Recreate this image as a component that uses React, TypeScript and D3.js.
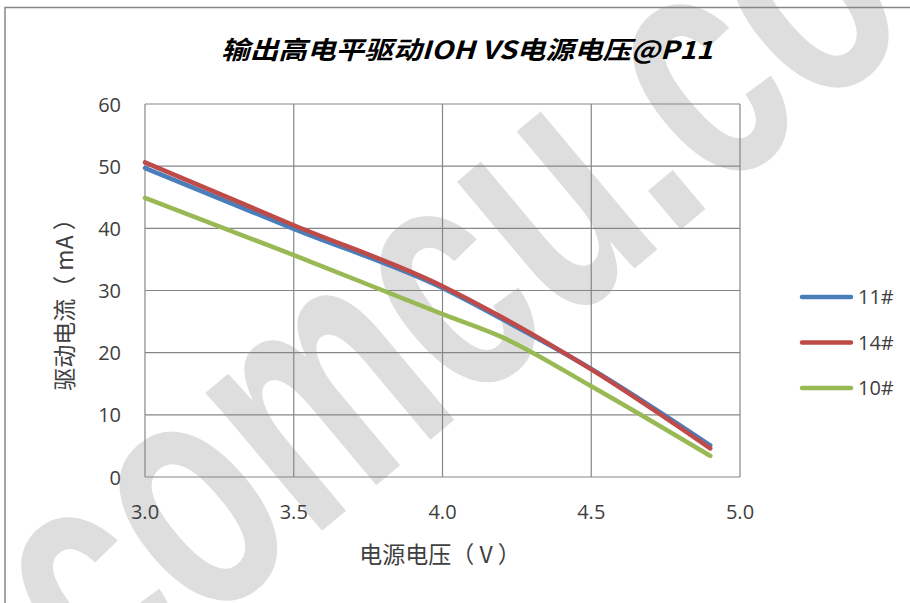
import React from "react";
import * as d3 from "d3";

const voltages = [3.0, 3.5, 4.0, 4.2, 4.5, 4.9];
const s11 = [49.7, 39.9, 30.4, 25.4, 17.4, 5.1];
const s14 = [50.6, 40.5, 30.7, 25.7, 17.3, 4.6];
const s10 = [44.9, 35.7, 26.2, 22.5, 14.6, 3.4];
const seriesNames = ["11#", "14#", "10#"];
const seriesColors = ["#4A7EBB", "#BE4B48", "#98B954"];
const xTicks = [3.0, 3.5, 4.0, 4.5, 5.0];
const yTicks = [0, 10, 20, 30, 40, 50, 60];
const title = "输出高电平驱动IOH VS电源电压@P11";
const xTitle = "电源电压（ V ）";
const yTitle = "驱动电流（ mA ）";
const watermark = "comcu.com";

const W = 910;
const H = 603;
const plot = { left: 145, right: 740, top: 104, bottom: 477 };
const font = "'Noto Sans CJK SC', 'Noto Sans', sans-serif";
const numFont = "'Open Sans', 'Noto Sans', sans-serif";

export default function App() {
  const x = d3.scaleLinear().domain([3.0, 5.0]).range([plot.left, plot.right]);
  const y = d3.scaleLinear().domain([0, 60]).range([plot.bottom, plot.top]);
  const all = [s11, s14, s10];
  const line = d3
    .line<[number, number]>()
    .x((d) => x(d[0]))
    .y((d) => y(d[1]))
    .curve(d3.curveMonotoneX);
  const drawOrder = [2, 0, 1];
  return (
    <svg
      width={W}
      height={H}
      style={{ position: "absolute", left: 0, top: 0, background: "#fff" }}
    >
      <rect x={0} y={0} width={W} height={H} fill="#fff" />
      <text
        transform="translate(106,712) rotate(-40) scale(1,1.5)"
        fontFamily="'Liberation Sans', Arial, sans-serif"
        fontWeight="bold"
        fontSize={228}
        fill="#dedede"
      >
        {watermark}
      </text>
      <rect x={5} y={7.5} width={W + 20} height={H + 20} fill="none" stroke="#868686" strokeWidth={1.5} />
      <text
        x={221}
        y={59}
        textLength={492}
        lengthAdjust="spacingAndGlyphs"
        fontFamily={font}
        fontWeight="bold"
        fontStyle="italic"
        fontSize={25}
        fill="#000"
      >
        {title}
      </text>
      {yTicks.map((t) => (
        <line key={"gy" + t} x1={plot.left} x2={plot.right} y1={y(t)} y2={y(t)} stroke="#868686" strokeWidth={1.2} />
      ))}
      {xTicks.map((t) => (
        <line key={"gx" + t} x1={x(t)} x2={x(t)} y1={plot.top} y2={plot.bottom} stroke="#868686" strokeWidth={1.2} />
      ))}
      {yTicks.map((t) => (
        <text key={"ty" + t} x={121} y={y(t) + 7.5} textAnchor="end" fontFamily={numFont} fontSize={20} fill="#404040">
          {t}
        </text>
      ))}
      {xTicks.map((t) => (
        <text key={"tx" + t} x={x(t)} y={519} textAnchor="middle" fontFamily={numFont} fontSize={20} fill="#404040">
          {t.toFixed(1)}
        </text>
      ))}
      <text x={440} y={563} textAnchor="middle" fontFamily={font} fontSize={23} fill="#404040">
        {xTitle}
      </text>
      <text
        transform="translate(73,299) rotate(-90)"
        textAnchor="middle"
        fontFamily={font}
        fontSize={23}
        fill="#404040"
      >
        {yTitle}
      </text>
      {drawOrder.map((i) => (
        <path
          key={"s" + i}
          d={line(voltages.map((v, j) => [v, all[i][j]] as [number, number])) || ""}
          fill="none"
          stroke={seriesColors[i]}
          strokeWidth={4.5}
          strokeLinejoin="round"
          strokeLinecap="round"
        />
      ))}
      {seriesNames.map((n, i) => (
        <g key={"lg" + n} transform={`translate(0,${297 + i * 45.5})`}>
          <line x1={802} x2={851} y1={0} y2={0} stroke={seriesColors[i]} strokeWidth={4.5} strokeLinecap="round" />
          <text x={858} y={7} fontFamily={numFont} fontSize={20} fill="#404040">
            {n}
          </text>
        </g>
      ))}
    </svg>
  );
}
